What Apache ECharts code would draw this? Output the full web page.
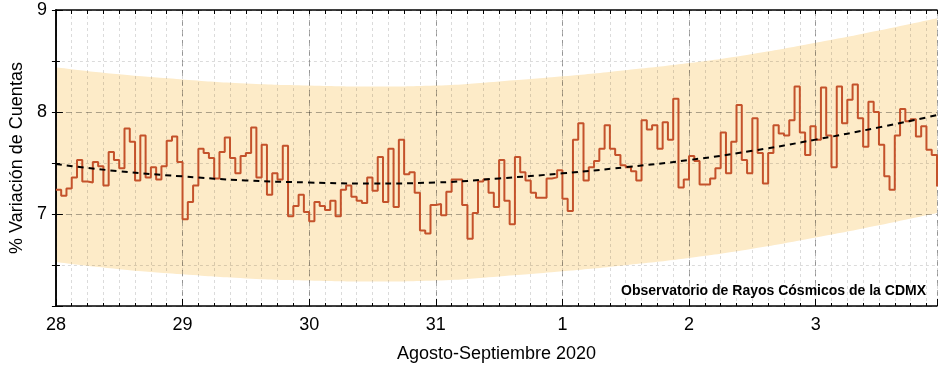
<!DOCTYPE html>
<html lang="es">
<head>
<meta charset="utf-8">
<title>% Variación de Cuentas</title>
<script src="https://cdn.jsdelivr.net/npm/echarts@6/dist/echarts.min.js"></script>
<style>
  html, body { margin: 0; padding: 0; background: #fff; }
  #grafica { width: 949px; height: 377px; }
</style>
</head>
<body>
<div id="grafica"></div>
<script>
// etiquetas de los ejes
const etiquetasDias = ['28', '29', '30', '31', '1', '2', '3'];
const etiquetasY = [7, 8, 9];

// % de variación de cuentas, un valor por hora (cada arreglo es un día)
const dia28 = [7.24, 7.18, 7.25, 7.36, 7.53, 7.32, 7.31, 7.51, 7.47, 7.28, 7.61, 7.53,
               7.45, 7.84, 7.71, 7.33, 7.77, 7.36, 7.46, 7.34, 7.47, 7.72, 7.76, 7.51];
const dia29 = [6.95, 7.12, 7.28, 7.64, 7.60, 7.55, 7.35, 7.61, 7.75, 7.55, 7.40, 7.57,
               7.60, 7.85, 7.36, 7.68, 7.19, 7.40, 7.34, 7.67, 6.98, 7.08, 7.19, 7.02];
const dia30 = [6.93, 7.12, 7.08, 7.04, 7.13, 6.98, 7.24, 7.28, 7.17, 7.13, 7.11, 7.36,
               7.23, 7.56, 7.12, 7.64, 7.07, 7.73, 7.39, 7.41, 7.21, 6.84, 6.81, 7.09];
const dia31 = [7.10, 6.99, 7.22, 7.34, 7.34, 7.09, 6.76, 7.01, 7.32, 7.34, 7.21, 7.07,
               7.53, 7.13, 6.90, 7.56, 7.41, 7.33, 7.21, 7.16, 7.16, 7.35, 7.36, 7.43];
const dia01 = [7.15, 7.03, 7.73, 7.89, 7.33, 7.46, 7.52, 7.64, 7.87, 7.64, 7.58, 7.48,
               7.46, 7.42, 7.33, 7.92, 7.83, 7.87, 7.64, 7.90, 7.73, 8.13, 7.26, 7.34];
const dia02 = [7.57, 7.52, 7.29, 7.29, 7.35, 7.45, 7.80, 7.40, 7.71, 8.07, 7.53, 7.40,
               7.94, 7.60, 7.30, 7.60, 7.87, 7.79, 7.77, 7.92, 8.25, 7.80, 7.58, 7.86];
const dia03 = [7.73, 8.24, 7.77, 7.46, 8.25, 7.89, 8.12, 8.27, 7.94, 7.66, 8.10, 8.00,
               7.68, 7.37, 7.24, 7.77, 8.03, 7.91, 7.93, 7.76, 7.86, 7.63, 7.58, 7.27];

// ajuste (línea discontinua) y banda, leídos cada 12 h
const horasAjuste = [0, 12, 24, 36, 48, 60, 72, 84, 96, 108, 120, 132, 144, 156, 167];
const ajuste   = [7.49, 7.42, 7.37, 7.33, 7.31, 7.30, 7.31, 7.35, 7.40, 7.46, 7.53, 7.62, 7.73, 7.85, 7.97];
const bandaSup = [8.44, 8.37, 8.32, 8.28, 8.26, 8.25, 8.26, 8.30, 8.35, 8.41, 8.48, 8.57, 8.68, 8.80, 8.92];
const bandaInf = [6.53, 6.46, 6.41, 6.37, 6.35, 6.34, 6.35, 6.39, 6.44, 6.50, 6.57, 6.66, 6.77, 6.89, 7.01];

const FUENTE = 'Liberation Sans, Arial, sans-serif';
const MENOR = 'rgba(0, 0, 0, 0.14)';
const MAYOR = 'rgba(0, 0, 0, 0.32)';

const cuentas = [].concat(dia28, dia29, dia30, dia31, dia01, dia02, dia03);
const horaFinal = cuentas.length - 1;

const grafica = echarts.init(document.getElementById('grafica'));

const ejeX = { type: 'value', min: 0, max: horaFinal, z: 3 };
const ejeY = { type: 'value', min: 6.1, max: 9, z: 3 };
const lineaNegra = { lineStyle: { color: '#000', width: 1.5 } };
const marcaNegra = { color: '#000', width: 1 };

// banda: se rellena hasta el borde superior y luego se tapa en blanco por debajo
function serieBanda(valores, color, z) {
    return {
        type: 'line',
        data: horasAjuste.map((h, i) => [h, valores[i]]),
        smooth: true,
        symbol: 'none',
        lineStyle: { opacity: 0 },
        areaStyle: { color: color, opacity: 1, origin: 'start' },
        silent: true,
        z: z
    };
}

const option = {
    animation: false,
    grid: { left: 55, right: 12, top: 10, bottom: 71 },
    title: {
        text: 'Observatorio de Rayos Cósmicos de la CDMX',
        right: 18,
        top: 279,
        textStyle: { fontSize: 14, fontWeight: 'bold', color: '#000', fontFamily: FUENTE }
    },
    xAxis: [
        {
            ...ejeX,
            position: 'bottom',
            interval: 3,
            axisLine: lineaNegra,
            axisTick: { inside: true, length: 3, lineStyle: marcaNegra },
            axisLabel: {
                formatter: (v) => (v % 24 === 0 ? etiquetasDias[v / 24] : ''),
                color: '#000', fontSize: 18, margin: 10, fontFamily: FUENTE
            },
            splitLine: { show: true, lineStyle: { color: MENOR, type: [3, 3] } },
            name: 'Agosto-Septiembre 2020',
            nameLocation: 'middle',
            nameGap: 39,
            nameTextStyle: { color: '#000', fontSize: 18, fontFamily: FUENTE }
        },
        {
            ...ejeX,
            position: 'bottom',
            interval: 24,
            axisLine: { show: false },
            axisTick: { inside: true, length: 7, lineStyle: marcaNegra },
            axisLabel: { show: false },
            splitLine: { show: true, lineStyle: { color: MAYOR, type: [6, 4] } }
        },
        {
            ...ejeX,
            position: 'top',
            interval: 3,
            axisLine: lineaNegra,
            axisTick: { inside: true, length: 4, lineStyle: marcaNegra },
            axisLabel: { show: false },
            splitLine: { show: false }
        }
    ],
    yAxis: [
        {
            ...ejeY,
            position: 'left',
            splitNumber: 6,
            axisLine: lineaNegra,
            axisTick: { inside: true, length: 4, lineStyle: marcaNegra },
            axisLabel: {
                formatter: (v) => (etiquetasY.includes(v) ? String(v) : ''),
                color: '#000', fontSize: 18, margin: 9, fontFamily: FUENTE
            },
            splitLine: { show: true, lineStyle: { color: ['transparent', MENOR], type: [3, 3] } },
            name: '% Variación de Cuentas',
            nameLocation: 'middle',
            nameGap: 29,
            nameTextStyle: { color: '#000', fontSize: 18, fontFamily: FUENTE }
        },
        {
            ...ejeY,
            position: 'left',
            splitNumber: 3,
            axisLine: { show: false },
            axisTick: { inside: true, length: 7, lineStyle: marcaNegra },
            axisLabel: { show: false },
            splitLine: { show: true, lineStyle: { color: MAYOR, type: [6, 4] } }
        },
        {
            ...ejeY,
            position: 'right',
            splitNumber: 6,
            axisLine: lineaNegra,
            axisTick: { inside: true, length: 4, lineStyle: marcaNegra },
            axisLabel: { show: false },
            splitLine: { show: false }
        }
    ],
    series: [
        serieBanda(bandaSup, '#fdebc8', 1),
        serieBanda(bandaInf, '#ffffff', 1.5),
        {
            type: 'line',
            data: cuentas.map((v, h) => [h, v]),
            step: 'end',
            symbol: 'none',
            lineStyle: { color: '#c4522b', width: 2 },
            z: 4
        },
        {
            type: 'line',
            data: horasAjuste.map((h, i) => [h, ajuste[i]]),
            smooth: true,
            symbol: 'none',
            lineStyle: { color: '#000', width: 2, type: [6, 5] },
            z: 5
        }
    ]
};

grafica.setOption(option);
</script>
</body>
</html>
